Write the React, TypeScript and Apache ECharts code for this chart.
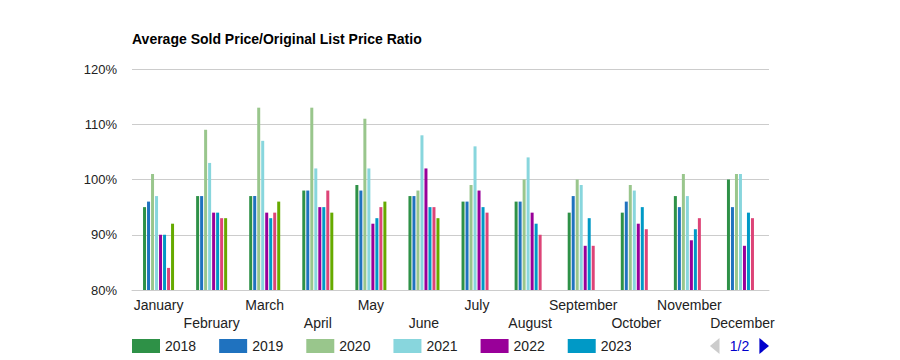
import React, { useEffect, useRef } from "react";
import * as echarts from "echarts";

const months = ["January","February","March","April","May","June","July","August","September","October","November","December"];
const years = ["2018","2019","2020","2021","2022","2023","2024","2025"];
const colors = ["#2e9147","#1f72bf","#99c68c","#88d6dd","#990099","#0099c6","#dd4477","#66aa00"];
const v2018 = [95,97,97,98,99,97,96,96,94,94,97,100];
const v2019 = [96,97,97,98,98,97,96,96,97,96,95,95];
const v2020 = [101,109,113,113,111,98,99,100,100,99,101,101];
const v2021 = [97,103,107,102,102,108,106,104,99,98,97,101];
const v2022 = [90,94,94,95,92,102,98,94,88,92,89,88];
const v2023 = [90,94,93,95,93,95,95,92,93,95,91,94];
const v2024 = [84,93,94,98,95,95,94,90,88,91,93,93];
const v2025 = [92,93,96,94,96,93];
const allValues = [v2018, v2019, v2020, v2021, v2022, v2023, v2024, v2025];

const FONT = "'Liberation Sans', Arial, sans-serif";

export default function App() {
  const ref = useRef<HTMLDivElement>(null);
  useEffect(() => {
    if (!ref.current) return;
    const chart = echarts.init(ref.current, undefined, { renderer: "svg" });
    chart.setOption({
      animation: false,
      textStyle: { fontFamily: FONT },
      title: {
        text: "Average Sold Price/Original List Price Ratio",
        left: 127,
        top: 27,
        textStyle: { fontSize: 14, fontWeight: "bold", color: "#000", fontFamily: FONT },
      },
      grid: { left: 132, right: 131, top: 69, bottom: 70, containLabel: false },
      legend: {
        type: "scroll",
        left: 132,
        top: 338,
        width: 637,
        padding: 0,
        itemWidth: 28,
        itemHeight: 14,
        itemGap: 23,
        icon: "rect",
        textStyle: { fontSize: 14, color: "#222", fontFamily: FONT },
        pageIconColor: "#0000cc",
        pageIconInactiveColor: "#cccccc",
        pageIconSize: [14, 16],
        pageButtonItemGap: 4,
        pageButtonGap: 79,
        pageTextStyle: { color: "#0000cc", fontSize: 14, fontFamily: FONT },
        data: years,
      },
      xAxis: {
        type: "category",
        data: months,
        axisLine: { show: true, lineStyle: { color: "#cccccc" } },
        axisTick: { show: false },
        axisLabel: {
          interval: 0,
          margin: 6,
          fontSize: 14,
          lineHeight: 18,
          color: "#222",
          fontFamily: FONT,
          formatter: (v: string, i: number) => (i % 2 ? "\n" + v : v),
        },
      },
      yAxis: {
        type: "value",
        min: 80,
        max: 120,
        interval: 10,
        axisLine: { show: false },
        axisTick: { show: false },
        splitLine: { lineStyle: { color: "#cccccc" } },
        axisLabel: { formatter: "{value}%", fontSize: 13, color: "#222", margin: 15, fontFamily: FONT },
      },
      series: years.map((y, i) => ({
        name: y,
        type: "bar",
        data: allValues[i],
        barWidth: 3,
        barGap: "33.4%",
        itemStyle: { color: colors[i] },
      })),
    });
    return () => chart.dispose();
  }, []);
  return <div ref={ref} style={{ width: 900, height: 360, position: "absolute", left: 0, top: 0 }} />;
}
